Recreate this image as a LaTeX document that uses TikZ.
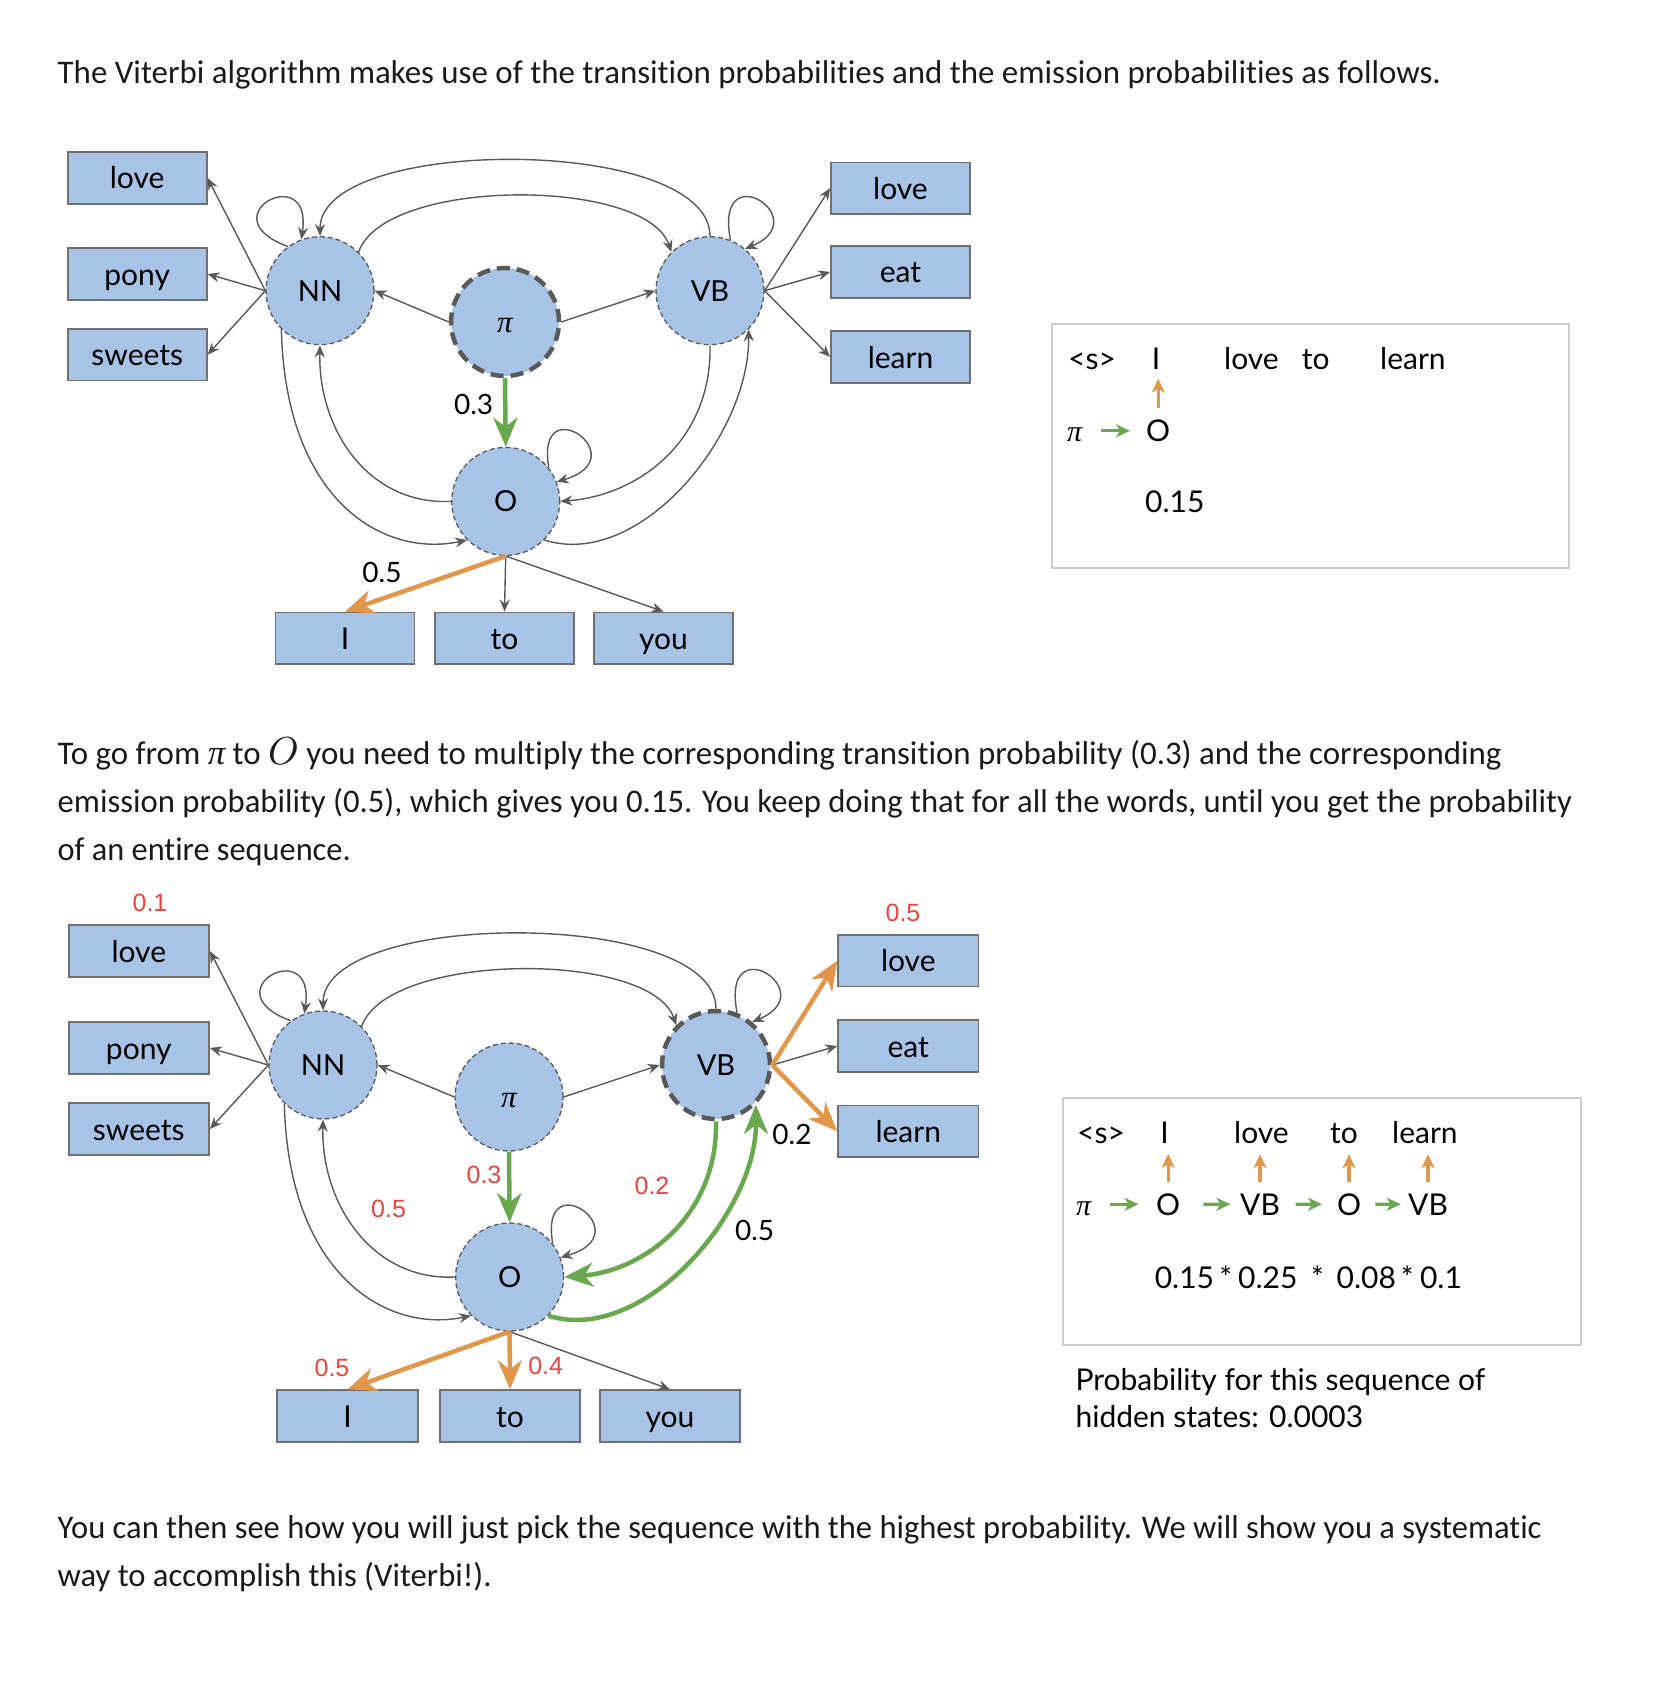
\documentclass[tikz,border=0pt]{standalone}
\usepackage{fontspec}
\setmainfont{Lato}
\newfontfamily\arialf{Liberation Sans}
\newfontfamily\paraf[Ligatures=NoCommon]{Carlito}
\newfontfamily\piface{Liberation Serif}
\usepackage{graphicx}
\usetikzlibrary{arrows.meta}
\definecolor{nodeblue}{HTML}{A7C3E6}
\definecolor{edgegray}{HTML}{595959}
\definecolor{boxborder}{HTML}{707070}
\definecolor{arrgreen}{HTML}{6AA84F}
\definecolor{arrorange}{HTML}{E0974A}
\definecolor{lblred}{HTML}{E8453C}
\definecolor{framegray}{HTML}{CCCCCC}
\definecolor{txt}{HTML}{1A1A1A}
\newcommand{\pline}[2]{\resizebox{#1pt}{\height}{#2}}
\newcommand{\mysym}[2]{{\fontsize{10}{12}\selectfont\scalebox{#1}{$#2$}}}
\newcommand{\mypi}[1]{{\piface\itshape\fontsize{#1}{#1}\selectfont π}}
\begin{document}
\begin{tikzpicture}[x=1pt,y=-1pt,
  state/.style={circle, minimum size=108pt, inner sep=0pt, fill=nodeblue, draw=edgegray,
     line width=1.3pt, dash pattern=on 5pt off 3pt, font=\fontsize{29}{34}\selectfont,
     text height=21pt, text depth=0pt},
  startstate/.style={state, line width=4.5pt, dash pattern=on 13pt off 7pt},
  word/.style={rectangle, minimum width=139pt, minimum height=51.5pt, inner sep=0pt,
     fill=nodeblue, draw=boxborder, line width=1.8pt, font=\fontsize{30}{36}\selectfont,
     text height=22pt, text depth=0pt},
  edge/.style={draw=edgegray, line width=1.4pt, -{Stealth[length=12pt,width=10pt,inset=4pt]}},
  greenarr/.style={draw=arrgreen, line width=4.5pt, -{Stealth[length=29pt,width=24pt,inset=9pt]}},
  orangearr/.style={draw=arrorange, line width=4.5pt, -{Stealth[length=29pt,width=24pt,inset=9pt]}},
  rlabel/.style={text=lblred, font=\arialf\fontsize{25}{30}\selectfont, inner sep=0pt},
  blabel/.style={text=black, font=\fontsize{28}{34}\selectfont, inner sep=0pt},
  boxtxt/.style={font=\fontsize{30}{36}\selectfont, inner sep=0pt, anchor=base west, text=black},
  sgreen/.style={draw=arrgreen, line width=3.2pt, -{Stealth[length=14pt,width=13pt,inset=4pt]}},
  sorange/.style={draw=arrorange, line width=3.2pt, -{Stealth[length=14pt,width=13pt,inset=4pt]}},
  para/.style={font=\paraf\fontsize{33}{40}\selectfont, text=txt, inner sep=0pt, anchor=base west},
  framebox/.style={draw=framegray, line width=2pt, inner sep=0pt}
]
\path[fill=white, use as bounding box] (0,0) rectangle (1662,1696);

% ---------- paragraphs ----------
\node[para] (p1) at (57.5,84) {\pline{1383.5}{The Viterbi algorithm makes use of the transition probabilities and the emission probabilities as follows.}};
\node[para] (p2) at (57.5,764) {\pline{1444}{To go from \mypi{35} to \mysym{3.9}{O} you need to multiply the corresponding transition probability (0.3) and the corresponding}};
\node[para] (p3) at (57.5,812) {\pline{1514.5}{emission probability (0.5), which gives you 0.15. You keep doing that for all the words, until you get the probability}};
\node[para] (p4) at (57.5,860) {\pline{293}{of an entire sequence.}};
\node[para] (p5) at (57.5,1538) {\pline{1484}{You can then see how you will just pick the sequence with the highest probability. We will show you a systematic}};
\node[para] (p6) at (57.5,1586) {\pline{434}{way to accomplish this (Viterbi!).}};

% ---------- top diagram ----------
\node[word] (love1) at (137.2,178) {love};
\node[word] (pony1) at (137.2,274) {pony};
\node[word] (sweets1) at (137.2,354.7) {sweets};
\node[word] (rlove1) at (900.5,188.2) {love};
\node[word] (eat1) at (900.5,272) {eat};
\node[word] (learn1) at (900.5,357) {learn};
\node[word] (I1) at (345,638.2) {I};
\node[word] (to1) at (504.5,638.2) {to};
\node[word] (you1) at (663.5,638.2) {you};
\node[state] (NN1) at (320,290.7) {NN};
\node[startstate] (pi1) at (505,322) {\mypi{31}};
\node[state] (VB1) at (710,290.7) {VB};
\node[state] (O1) at (505.7,501.4) {O};

\draw[edge] (NN1.west) -- (love1.east);
\draw[edge] (NN1.west) -- (pony1.east);
\draw[edge] (NN1.west) -- (sweets1.east);
\draw[edge] (VB1.east) -- (rlove1.west);
\draw[edge] (VB1.east) -- (eat1.west);
\draw[edge] (VB1.east) -- (learn1.west);
\draw[edge] (pi1.west) -- (NN1.east);
\draw[edge] (pi1.east) -- (VB1.west);
\draw[edge] (O1.south) -- (to1.north);
\draw[edge] (O1.south) -- (you1.north);
\draw[edge] (NN1.126) .. controls +(-82,-30) and +(12,-80) .. (NN1.110);
\draw[edge] (VB1.68) .. controls +(-17,-87) and +(72,-30) .. (VB1.50);
\draw[edge] (O1.38) .. controls +(-14,-82) and +(82,-24) .. (O1.21);
\draw[edge] (VB1.north) .. controls +(0,-101) and +(0,-101) .. (NN1.north);
\draw[edge] (NN1.45) .. controls +(26,-75) and +(-25,-75) .. (VB1.135);
\draw[edge] (NN1.225) .. controls +(4,170) and +(-85,18) .. (O1.225);
\draw[edge] (O1.west) .. controls +(-82,4) and +(-2,85) .. (NN1.south);
\draw[edge] (VB1.south) .. controls +(2,95) and +(79,-6) .. (O1.east);
\draw[edge] (O1.-45) .. controls +(95,30) and +(1,107) .. (VB1.-45);
\draw[greenarr] (pi1.south) -- (O1.north);
\draw[orangearr] (O1.south) -- (I1.north);
\node[blabel] (l1a) at (473.6,404) {0.3};
\node[blabel] (l1b) at (382,572) {0.5};

% ---------- top text box ----------
\node[framebox, minimum width=517pt, minimum height=244pt] (box1) at (1310.1,445.9) {};
\node[boxtxt] (t1s) at (1068,369.5) {<s>};
\node[boxtxt, anchor=base] (t1I) at (1156,369.5) {I};
\node[boxtxt] (t1love) at (1224,369.5) {love};
\node[boxtxt] (t1to) at (1301.6,369.5) {to};
\node[boxtxt] (t1learn) at (1380,369.5) {learn};
\node[boxtxt] (t1pi) at (1067,441.5) {\mypi{30}};
\node[boxtxt] (t1O) at (1146,441.5) {O};
\node[boxtxt] (t1p) at (1145,512) {0.15};
\draw[sgreen, shorten <=19pt, shorten >=16pt] (t1pi.east |- t1O) -- (t1O.west);
\draw[sorange, shorten <=12pt, shorten >=9pt] (t1O.north) -- (t1O.north |- t1I.south);

% ---------- bottom diagram ----------
\node[word, minimum width=140.4pt] (love2) at (138.8,951) {love};
\node[word, minimum width=140.4pt] (pony2) at (138.8,1048) {pony};
\node[word, minimum width=140.4pt] (sweets2) at (138.8,1129) {sweets};
\node[word, minimum width=140.4pt] (rlove2) at (908.3,960.8) {love};
\node[word, minimum width=140.4pt] (eat2) at (908.3,1046) {eat};
\node[word, minimum width=140.4pt] (learn2) at (908.3,1131.2) {learn};
\node[word, minimum width=140.4pt] (I2) at (347.5,1416) {I};
\node[word, minimum width=140.4pt] (to2) at (510,1416) {to};
\node[word, minimum width=140.4pt] (you2) at (670,1416) {you};
\node[state] (NN2) at (323,1065) {NN};
\node[state] (pi2) at (509,1097) {\mypi{31}};
\node[startstate] (VB2) at (716,1065) {VB};
\node[state] (O2) at (509.6,1277) {O};

\draw[edge] (NN2.west) -- (love2.east);
\draw[edge] (NN2.west) -- (pony2.east);
\draw[edge] (NN2.west) -- (sweets2.east);
\draw[edge] (VB2.east) -- (eat2.west);
\draw[edge] (pi2.west) -- (NN2.east);
\draw[edge] (pi2.east) -- (VB2.west);
\draw[edge] (O2.south) -- (you2.north);
\draw[edge] (NN2.126) .. controls +(-82,-30) and +(12,-80) .. (NN2.110);
\draw[edge] (VB2.68) .. controls +(-17,-87) and +(72,-30) .. (VB2.50);
\draw[edge] (O2.38) .. controls +(-14,-82) and +(82,-24) .. (O2.21);
\draw[edge] (VB2.north) .. controls +(0,-101) and +(0,-101) .. (NN2.north);
\draw[edge] (NN2.45) .. controls +(26,-75) and +(-25,-75) .. (VB2.135);
\draw[edge] (NN2.225) .. controls +(4,170) and +(-85,18) .. (O2.225);
\draw[edge] (O2.west) .. controls +(-82,4) and +(-2,85) .. (NN2.south);
\draw[greenarr] (VB2.south) .. controls +(2,95) and +(79,-6) .. (O2.east);
\draw[greenarr] (O2.-45) .. controls +(95,30) and +(1,107) .. (VB2.-45);
\draw[greenarr] (pi2.south) -- (O2.north);
\draw[orangearr] (VB2.east) -- (rlove2.west);
\draw[orangearr] (VB2.east) -- (learn2.west);
\draw[orangearr] (O2.south) -- (I2.north);
\draw[orangearr] (O2.south) -- (to2.north);

\node[rlabel] (r1) at (150,903) {0.1};
\node[rlabel] (r2) at (903,913) {0.5};
\node[blabel] (k1) at (792,1134) {0.2};
\node[rlabel] (r3) at (652,1186) {0.2};
\node[blabel] (k2) at (754.6,1230) {0.5};
\node[rlabel] (r4) at (484,1175) {0.3};
\node[rlabel] (r5) at (388.6,1208.6) {0.5};
\node[rlabel] (r6) at (332,1367.5) {0.5};
\node[rlabel] (r7) at (545.7,1366) {0.4};

% ---------- bottom text box ----------
\node[framebox, minimum width=518pt, minimum height=247.4pt] (box2) at (1322,1221.7) {};
\node[boxtxt] (b1s) at (1077,1143.8) {<s>};
\node[boxtxt, anchor=base] (b1I) at (1164.6,1143.8) {I};
\node[boxtxt] (b1love) at (1234,1143.8) {love};
\node[boxtxt] (b1to) at (1330,1143.8) {to};
\node[boxtxt] (b1learn) at (1392,1143.8) {learn};
\node[boxtxt] (b1pi) at (1076,1215) {\mypi{30}};
\node[boxtxt] (b1O) at (1156,1215) {O};
\node[boxtxt] (b1VB) at (1240,1215) {VB};
\node[boxtxt] (b1Ob) at (1336.8,1215) {O};
\node[boxtxt] (b1VBb) at (1408,1215) {VB};
\draw[sgreen, shorten <=19pt, shorten >=17.5pt] (b1pi.east |- b1O) -- (b1O.west);
\draw[sgreen, shorten <=23pt, shorten >=9.6pt] (b1O.east) -- (b1VB.west);
\draw[sgreen, shorten <=15.5pt, shorten >=14.8pt] (b1VB.east) -- (b1Ob.west);
\draw[sgreen, shorten <=14.2pt, shorten >=7.3pt] (b1Ob.east) -- (b1VBb.west);
\draw[sorange, shorten <=11pt, shorten >=10pt] (b1O.north) -- (b1O.north |- b1I.south);
\draw[sorange, shorten <=11pt, shorten >=10pt] (b1VB.north) -- (b1VB.north |- b1love.south);
\draw[sorange, shorten <=11pt, shorten >=10pt] (b1Ob.north) -- (b1Ob.north |- b1to.south);
\draw[sorange, shorten <=11pt, shorten >=10pt] (b1VBb.north) -- (b1VBb.north |- b1learn.south);
\node[boxtxt] (c1) at (1154.6,1288) {0.15};
\node[boxtxt, anchor=base] (c2) at (1225.8,1288) {*};
\node[boxtxt] (c3) at (1238,1288) {0.25};
\node[boxtxt, anchor=base] (c4) at (1317.6,1288) {*};
\node[boxtxt] (c5) at (1336.4,1288) {0.08};
\node[boxtxt, anchor=base] (c6) at (1407.2,1288) {*};
\node[boxtxt] (c7) at (1419.8,1288) {0.1};
\node[boxtxt] (q1) at (1075.4,1390.6) {Probability for this sequence of};
\node[boxtxt] (q2) at (1075.4,1427) {hidden states: 0.0003};
\end{tikzpicture}
\end{document}
